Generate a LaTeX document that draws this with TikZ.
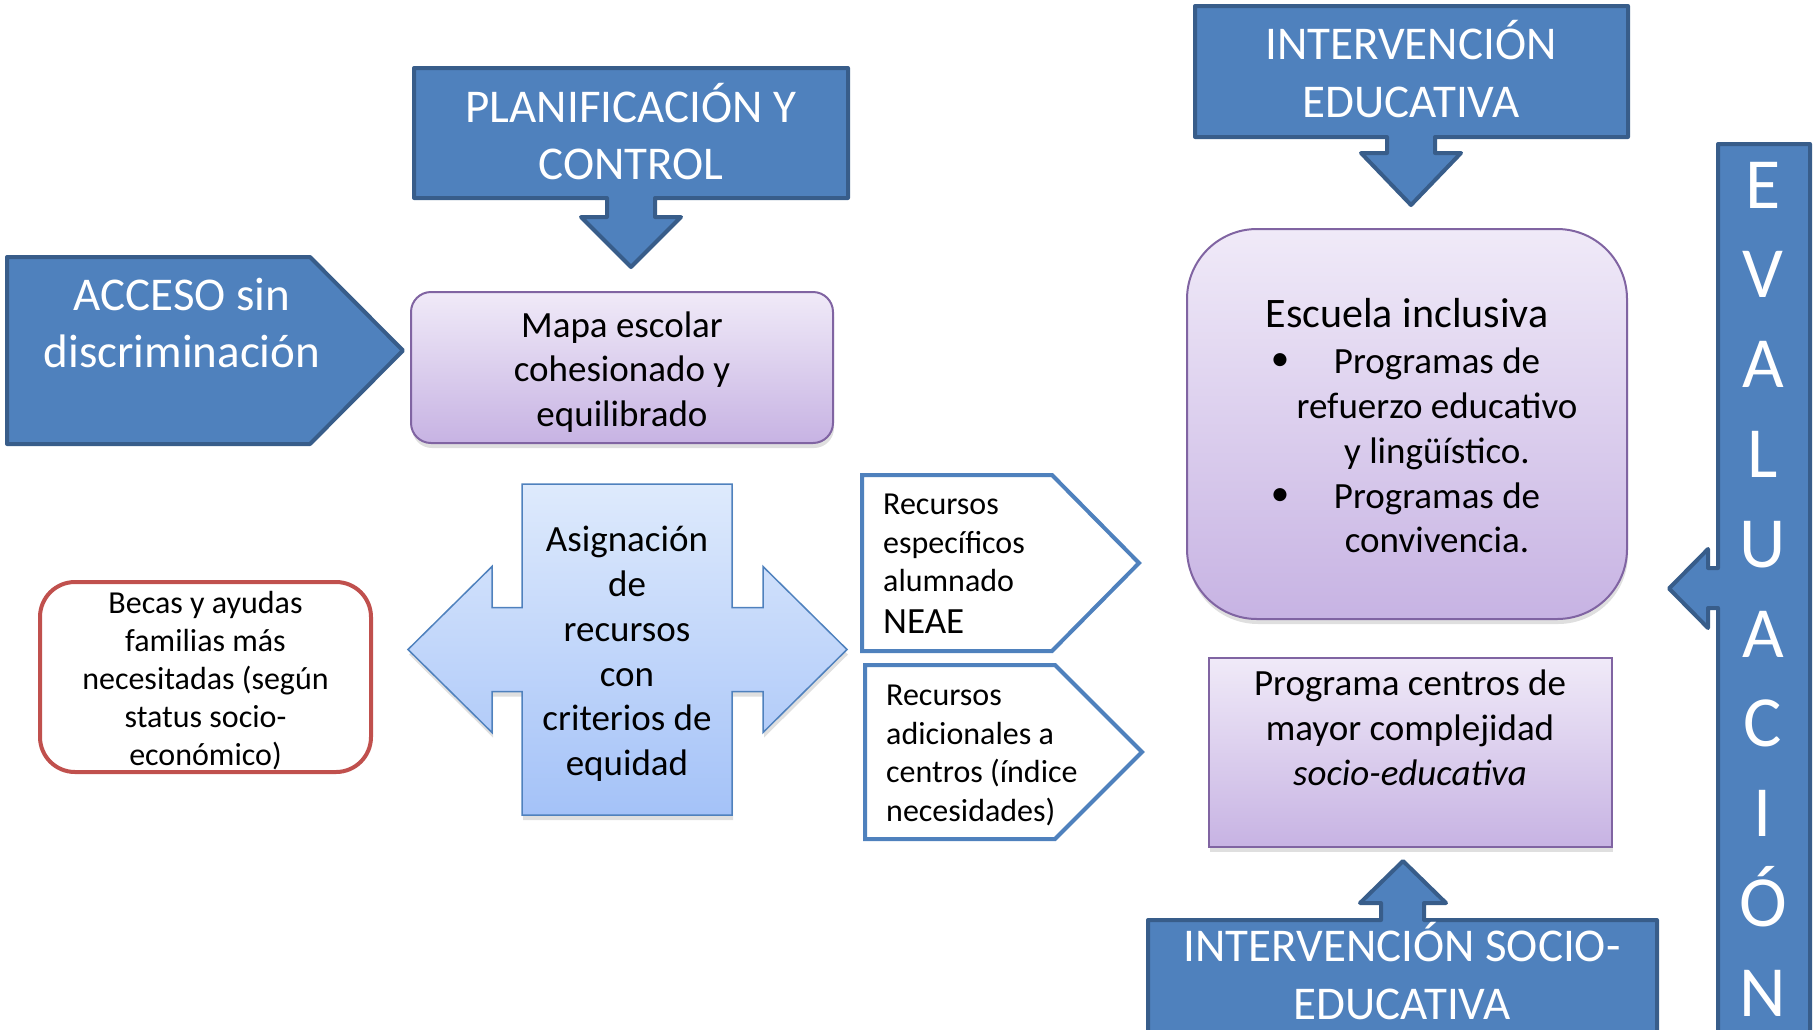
\documentclass[tikz,border=0pt]{standalone}
\usepackage{fontspec}
\setmainfont{Carlito}
\usepackage{xcolor}
\usepackage{tikz}
\usetikzlibrary{shadows}

\definecolor{azulcab}{HTML}{4F81BD}
\definecolor{azulborde}{HTML}{385D8A}
\definecolor{lilatop}{HTML}{F0EAF8}
\definecolor{lilabot}{HTML}{C7B3E3}
\definecolor{lilaborde}{HTML}{8064A2}
\definecolor{celtop}{HTML}{DEEAFC}
\definecolor{celbot}{HTML}{A4C2F8}
\definecolor{rojobecas}{HTML}{C0504D}

\begin{document}
\begin{tikzpicture}[x=1pt, y=-1pt,
  cabecera/.style={fill=azulcab, draw=azulborde, line width=4pt, line join=round},
  txtcab/.style={text=white, align=center, inner sep=0pt, font=\fontsize{47}{57.5}\selectfont},
  lila/.style={top color=lilatop, bottom color=lilabot, draw=lilaborde, line width=2pt,
    drop shadow={shadow xshift=1pt, shadow yshift=-5pt, opacity=0.25}},
  celeste/.style={top color=celtop, bottom color=celbot, draw=azulcab, line width=1.5pt,
    drop shadow={shadow xshift=1pt, shadow yshift=-5pt, opacity=0.25}},
  recurso/.style={fill=white, draw=azulcab, line width=4pt},
  txt/.style={align=center, inner sep=0pt, font=\fontsize{37}{44.8}\selectfont},
  txtpeq/.style={align=left, inner sep=0pt, font=\fontsize{32}{38.5}\selectfont}]

 \useasboundingbox (0,0) rectangle (1814,1029);

 % cabeceras con flecha hacia abajo
 \foreach \xa/\xb/\ya/\yb/\cx/\yw/\yt in {414/848/68/198/631/217/267, 1195/1628/6/137/1411/153/205}
 	\draw[cabecera] (\xa,\ya) -- (\xb,\ya) -- (\xb,\yb) -- (\cx+24,\yb) -- (\cx+24,\yw) -- (\cx+50,\yw) -- (\cx,\yt)
 	  -- (\cx-50,\yw) -- (\cx-24,\yw) -- (\cx-24,\yb) -- (\xa,\yb) -- cycle;
 \node[txtcab] (planif) at (631,131.5) {PLANIFICACIÓN Y\\CONTROL};
 \node[txtcab] (interv) at (1411,69) {INTERVENCIÓN\\EDUCATIVA};

 % cabecera con flecha hacia arriba
 \draw[cabecera] (1148,1050) -- (1148,920) -- (1381,920) -- (1381,903) -- (1360,903) -- (1403,861)
   -- (1446,903) -- (1424,903) -- (1424,920) -- (1657,920) -- (1657,1050) -- cycle;
 \node[txtcab] (socio) at (1402,971) {INTERVENCIÓN SOCIO-\\EDUCATIVA};

 % acceso
 \draw[cabecera] (7,257) -- (310,257) -- (403,350.5) -- (310,444) -- (7,444) -- cycle;
 \node[txtcab] (acceso) at (182,323) {ACCESO sin\\discriminación};

 % evaluacion
 \draw[cabecera] (1718,144) -- (1810,144) -- (1810,1045) -- (1718,1045) -- (1718,608) -- (1708,608)
   -- (1708,628) -- (1669,588.5) -- (1708,549) -- (1708,568) -- (1718,568) -- cycle;
 \foreach \letra [count=\i from 0] in {E,V,A,L,U,A,C,I,Ó,N}
 	\node[txtcab, font=\fontsize{72}{80}\selectfont, anchor=base] (eval\i) at (1763,208+89.8*\i) {\letra};

 % mapa escolar
 \node[lila, rounded corners=20pt, minimum width=422pt, minimum height=151pt] (mapa) at (622,367.5) {};
 \node[txt] (mapatxt) at (622,372) {Mapa escolar\\cohesionado y\\equilibrado};

 % asignacion de recursos
 \draw[celeste] (522,484) -- (732,484) -- (732,607.5) -- (763,607.5) -- (763,566.5) -- (847,649.5)
   -- (763,732.5) -- (763,691.5) -- (732,691.5) -- (732,815) -- (522,815) -- (522,691.5) -- (492,691.5)
   -- (492,732.5) -- (408,649.5) -- (492,566.5) -- (492,607.5) -- (522,607.5) -- cycle;
 \node[txt] (asig) at (627,654) {Asignación\\de\\recursos\\con\\criterios de\\equidad};

 % becas
 \node[draw=rojobecas, line width=4pt, rounded corners=35pt, minimum width=331pt, minimum height=190pt] (becas) at (205.5,677) {};
 \node[align=center, inner sep=0pt, font=\fontsize{32}{38}\selectfont] (becastxt) at (205.5,681)
   {Becas y ayudas\\familias más\\necesitadas (según\\status socio-\\económico)};

 % recursos
 \foreach \xa/\ya/\yb in {862/475/651, 865/665/839}
 	\draw[recurso] (\xa,\ya) -- (\xa+190,\ya) -- (\xa+277,{(\ya+\yb)/2}) -- (\xa+190,\yb) -- (\xa,\yb) -- cycle;
 \node[txtpeq, anchor=west] (especificos) at (883,543) {Recursos\\específicos\\alumnado};
 \node[inner sep=0pt, anchor=base west, font=\fontsize{37}{44}\selectfont] (neae) at (883,633) {NEAE};
 \node[txtpeq, anchor=west] (adicionales) at (886,755.5) {Recursos\\adicionales a\\centros (índice\\necesidades)};

 % escuela inclusiva
 \node[lila, rounded corners=70pt, minimum width=440pt, minimum height=390pt] (escuela) at (1407,424) {};
 \node[inner sep=0pt, anchor=base, font=\fontsize{42}{50}\selectfont] (titulo) at (1407,327) {Escuela inclusiva};
 \node[txt] (programas) at (1437,450.5) {Programas de\\refuerzo educativo\\y lingüístico.\\Programas de\\convivencia.};
 \foreach \y in {362,497}
 	\node[inner sep=0pt, font=\fontsize{37}{45}\selectfont] (punto\y) at (1280,\y) {\textbullet};

 % programa centros
 \node[lila, minimum width=403pt, minimum height=189pt] (programa) at (1410.5,752.5) {};
 \node[txt] (programatxt) at (1410,728) {Programa centros de\\mayor complejidad\\\textit{socio-educativa}};

\end{tikzpicture}
\end{document}
